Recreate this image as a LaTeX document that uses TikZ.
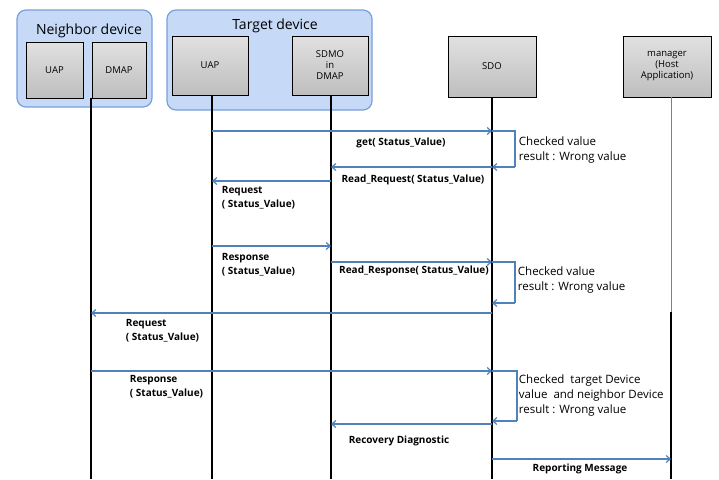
\documentclass[tikz,border=0pt]{standalone}
\usepackage{fontspec}
\setmainfont{Open Sans}
\usetikzlibrary{arrows.meta}
\definecolor{grpfill}{RGB}{198,217,247}
\definecolor{grpdraw}{RGB}{120,160,220}
\definecolor{boxtop}{RGB}{225,225,225}
\definecolor{boxbot}{RGB}{190,190,190}
\definecolor{msgblue}{RGB}{79,129,189}
\tikzset{
  group/.style={draw=grpdraw,fill=grpfill,line width=1.2pt,rounded corners=9pt},
  unit/.style={draw=black,line width=0.8pt,top color=boxtop,bottom color=boxbot,
    font=\fontsize{9.5}{11}\selectfont,align=center,inner sep=0pt},
  lifeline/.style={line width=2.2pt,black},
  msg/.style={msgblue,line width=1.3pt,-{Straight Barb[length=4pt,width=7pt,line width=1.2pt]}},
  loop/.style={msgblue,line width=1.3pt},
  lbl/.style={font=\bfseries\fontsize{10}{14.5}\selectfont,inner sep=0.75pt,align=left},
  note/.style={font=\fontsize{11.5}{15}\selectfont,inner sep=0.75pt,align=left,anchor=west}
}
\begin{document}
\begin{tikzpicture}[x=1pt,y=-1pt]
\useasboundingbox (0,0) rectangle (719,479);
% Device groups
\draw[group] (17,10) rectangle (152,107);
\draw[group] (167,10) rectangle (372,110);
\node[font=\fontsize{14}{15}\selectfont] (ngrp) at (89,31) {Neighbor device};
\node[font=\fontsize{14}{15}\selectfont] (tgrp) at (275,26) {Target device};
% Units
\node[unit,minimum width=57pt,minimum height=56pt] (nuap) at (54.5,70) {UAP};
\node[unit,minimum width=54pt,minimum height=56pt] (ndmap) at (119,70) {DMAP};
\node[unit,minimum width=76pt,minimum height=59pt] (tuap) at (210,65.5) {UAP};
\node[unit,minimum width=76pt,minimum height=59pt] (sdmo) at (330,65.5) {SDMO\\in\\DMAP};
\node[unit,minimum width=88pt,minimum height=61pt] (sdo) at (492,66.5) {SDO};
\node[unit,minimum width=88pt,minimum height=61pt] (mgr) at (667,66.5) {manager\\(Host\\Application)};
% Lifelines
\coordinate (nl) at (91,98);
\coordinate (nlend) at (91,479);
\coordinate (tl) at (212,95);
\coordinate (tlend) at (212,479);
\coordinate (sl) at (331,95);
\coordinate (slend) at (331,479);
\coordinate (ol) at (492,97);
\coordinate (olend) at (492,479);
\coordinate (ml) at (671,97);
\coordinate (mlmid) at (671,312);
\coordinate (mlend) at (671,479);
\draw[lifeline] (nl) -- (nlend);
\draw[lifeline] (tl) -- (tlend);
\draw[lifeline] (sl) -- (slend);
\draw[lifeline] (ol) -- (olend);
\draw[gray,line width=0.9pt] (ml) -- (mlmid);
\draw[lifeline,line width=1.6pt] (mlmid) -- (mlend);
% Message rows
\coordinate (m1) at (0,131);
\coordinate (m2) at (0,167);
\coordinate (m3) at (0,181);
\coordinate (m4) at (0,246);
\coordinate (m5) at (0,262);
\coordinate (m6) at (0,303);
\coordinate (m7) at (0,313);
\coordinate (m8) at (0,371);
\coordinate (m9) at (0,421);
\coordinate (m10) at (0,424);
\coordinate (m11) at (0,459);
% Messages
\draw[msg] (tl |- m1) -- (ol |- m1);
\draw[msg] (ol |- m2) -- (sl |- m2);
\draw[msg] (sl |- m3) -- (tl |- m3);
\draw[msg] (tl |- m4) -- (sl |- m4);
\draw[msg] (sl |- m5) -- (ol |- m5);
\draw[msg] (ol |- m7) -- (nl |- m7);
\draw[msg] (nl |- m8) -- (ol |- m8);
\draw[msg] (ol |- m10) -- (sl |- m10);
\draw[msg] (ol |- m11) -- (ml |- m11);
% Check loops
\draw[loop] (ol |- m1) -- (515,131) -- (515,167);
\draw[msg] (515,167) -- (ol |- m2);
\draw[loop] (ol |- m5) -- (515,262) -- (515,303);
\draw[msg] (515,303) -- (ol |- m6);
\draw[loop] (ol |- m8) -- (517,371) -- (517,421);
\draw[msg] (517,421) -- (ol |- m9);
% Text Node
\node[lbl] (l1) at (401,143) {get( Status\_Value)};
\node[lbl] (l2) at (413,180) {Read\_Request( Status\_Value)};
\node[lbl,anchor=north west] (l3) at (221,185) {Request\\( Status\_Value)};
\node[lbl,anchor=north west] (l4) at (221,252) {Response\\( Status\_Value)};
\node[lbl] (l5) at (414,271) {Read\_Response( Status\_Value)};
\node[lbl,anchor=north west] (l6) at (125,318) {Request\\( Status\_Value)};
\node[lbl,anchor=north west] (l7) at (129,374) {Response\\( Status\_Value)};
\node[lbl] (l8) at (399,441) {Recovery Diagnostic};
\node[lbl] (l9) at (580,469) {Reporting Message};
% Notes
\node[note] (c1) at (518,150) {Checked value\\result : Wrong value};
\node[note] (c2) at (517,280.5) {Checked value\\result : Wrong value};
\node[note] (c3) at (518,396) {Checked\ \ target Device\\value\ \ and neighbor Device\\result : Wrong value};
\end{tikzpicture}
\end{document}
